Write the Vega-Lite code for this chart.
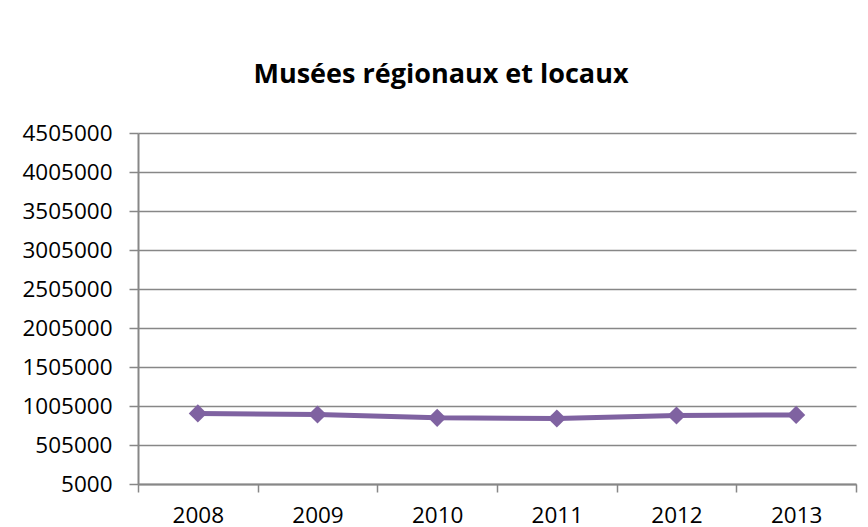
{
  "$schema": "https://vega.github.io/schema/vega-lite/v6.json",
  "width": 718,
  "height": 351,
  "autosize": {"type": "none"},
  "padding": {"left": 138, "top": 133, "right": 12, "bottom": 43},
  "background": "white",
  "title": {
    "text": "Musées régionaux et locaux",
    "font": "Open Sans",
    "fontSize": 27,
    "fontWeight": "bold",
    "color": "#000000",
    "anchor": "middle",
    "frame": "group",
    "baseline": "alphabetic",
    "dx": -56,
    "offset": 12
  },
  "data": {
    "values": [
      {"year": "2008", "visitors": 910000},
      {"year": "2009", "visitors": 896000},
      {"year": "2010", "visitors": 853000},
      {"year": "2011", "visitors": 845000},
      {"year": "2012", "visitors": 883000},
      {"year": "2013", "visitors": 891000}
    ]
  },
  "encoding": {
    "x": {
      "field": "year",
      "type": "nominal",
      "bandPosition": 0.5,
      "scale": {"type": "band", "paddingInner": 0, "paddingOuter": 0},
      "axis": {
        "title": null,
        "labelAngle": 0,
        "tickBand": "extent",
        "tickSize": 8,
        "labelPadding": 12,
        "grid": false,
        "domainColor": "#878787",
        "domainWidth": 2,
        "tickColor": "#878787",
        "tickWidth": 1.5
      }
    },
    "y": {
      "field": "visitors",
      "type": "quantitative",
      "scale": {"domain": [5000, 4505000], "nice": false, "zero": false},
      "axis": {
        "title": null,
        "values": [5000, 505000, 1005000, 1505000, 2005000, 2505000, 3005000, 3505000, 4005000, 4505000],
        "format": "d",
        "tickSize": 9,
        "labelPadding": 17,
        "grid": true,
        "gridColor": "#878787",
        "gridWidth": 1.5,
        "domainColor": "#878787",
        "domainWidth": 2,
        "tickColor": "#878787",
        "tickWidth": 1.5
      }
    }
  },
  "layer": [
    {
      "mark": {"type": "line", "color": "#7F62A1", "strokeWidth": 5}
    },
    {
      "mark": {"type": "point", "shape": "diamond", "filled": true, "opacity": 1, "size": 330, "color": "#7F62A1"}
    }
  ],
  "config": {
    "view": {"stroke": null},
    "axis": {
      "labelFont": "Open Sans",
      "labelFontSize": 22.5,
      "labelColor": "#000000"
    }
  }
}
